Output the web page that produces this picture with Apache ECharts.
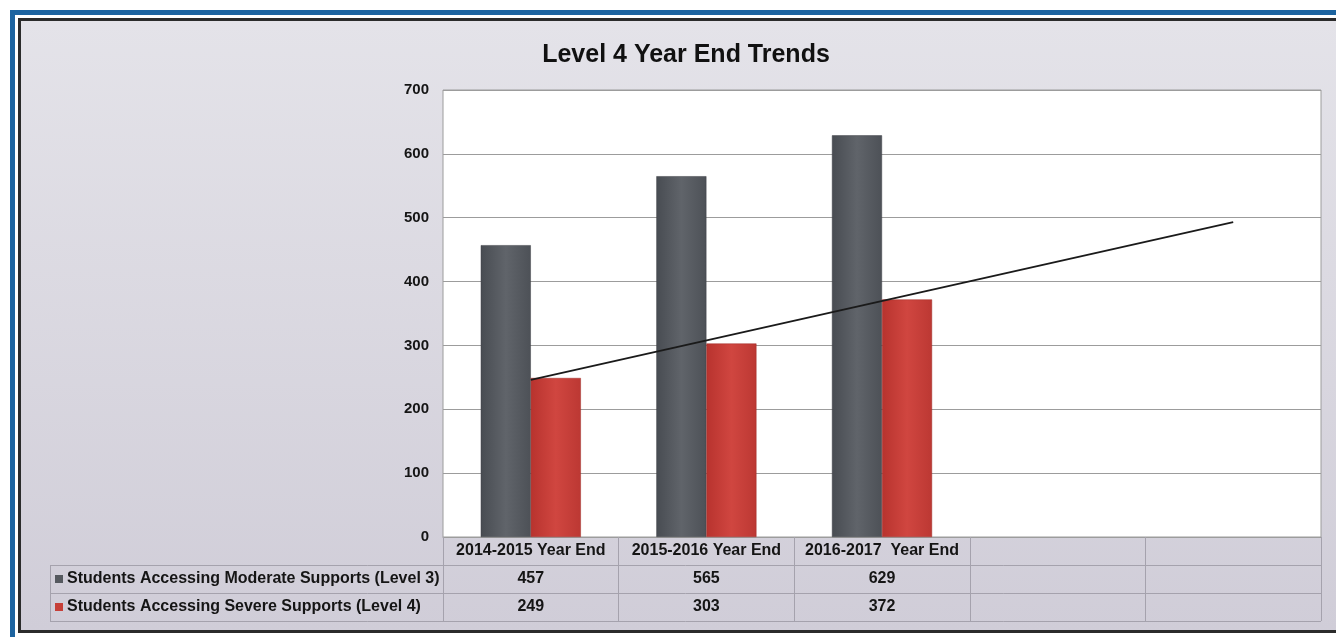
<!DOCTYPE html>
<html><head><meta charset="utf-8">
<script src="https://cdn.jsdelivr.net/npm/echarts@6/dist/echarts.min.js"></script>
<style>html,body{margin:0;padding:0;background:#fff}#c{width:1336px;height:637px}</style>
</head><body><div id="c"></div>
<script>
const chartTitle = 'Level 4 Year End Trends';
const categories = ['2014-2015 Year End', '2015-2016 Year End', '2016-2017  Year End', '', ''];
const seriesNames = ['Students Accessing Moderate Supports (Level 3)', 'Students Accessing Severe Supports (Level 4)'];
const moderate = [457, 565, 629];
const severe = [249, 303, 372];
const trendline = [246, '-', '-', '-', 493];
const yMin = 0, yMax = 700, yStep = 100;

const FONT = '"Liberation Sans", Arial, sans-serif';
const DARK = '#55595f', RED = '#c63f38';
const LINE = '#a5a2ad';

const chart = echarts.init(document.getElementById('c'), null, {renderer: 'canvas'});

const darkGrad = new echarts.graphic.LinearGradient(0, 0, 1, 0, [
  {offset: 0, color: '#484c52'}, {offset: 0.5, color: '#60646a'}, {offset: 1, color: '#4d5157'}]);
const redGrad = new echarts.graphic.LinearGradient(0, 0, 1, 0, [
  {offset: 0, color: '#b8332e'}, {offset: 0.5, color: '#d04640'}, {offset: 1, color: '#bc3833'}]);

const legendColors = [DARK, RED];
const rowY = [579, 607];

const graphics = [
  {type: 'rect', z: -20, shape: {x: 21, y: 21, width: 1315, height: 609},
   style: {fill: new echarts.graphic.LinearGradient(0, 0, 0, 1, [{offset: 0, color: '#e4e3e9'}, {offset: 1, color: '#d0cdd8'}])}},
  {type: 'rect', z: -10, shape: {x: 10, y: 10, width: 1326, height: 5}, style: {fill: '#1d64a0'}},
  {type: 'rect', z: -10, shape: {x: 10, y: 10, width: 5, height: 627}, style: {fill: '#1d64a0'}},
  {type: 'rect', z: -10, shape: {x: 18, y: 18, width: 1318, height: 3}, style: {fill: '#2b2b2b'}},
  {type: 'rect', z: -10, shape: {x: 18, y: 18, width: 3, height: 615}, style: {fill: '#2b2b2b'}},
  {type: 'rect', z: -10, shape: {x: 18, y: 630, width: 1318, height: 3}, style: {fill: '#2b2b2b'}},
  {type: 'line', z: 5, shape: {x1: 50, y1: 565.5, x2: 1321, y2: 565.5}, style: {stroke: LINE, lineWidth: 1}},
  {type: 'line', z: 5, shape: {x1: 50, y1: 593.5, x2: 1321, y2: 593.5}, style: {stroke: LINE, lineWidth: 1}},
  {type: 'line', z: 5, shape: {x1: 50, y1: 621.5, x2: 1321, y2: 621.5}, style: {stroke: LINE, lineWidth: 1}},
  {type: 'line', z: 5, shape: {x1: 50.5, y1: 565, x2: 50.5, y2: 622}, style: {stroke: LINE, lineWidth: 1}}
];
seriesNames.forEach((name, i) => {
  graphics.push({type: 'rect', z: 6, shape: {x: 55, y: rowY[i] - 4, width: 8, height: 8}, style: {fill: legendColors[i]}});
  graphics.push({type: 'text', z: 6, x: 67, y: rowY[i],
    style: {text: name, font: 'bold 16px ' + FONT, fill: '#151515', textVerticalAlign: 'middle', textAlign: 'left'}});
});

const option = {
  backgroundColor: '#ffffff',
  animation: false,
  title: {
    text: chartTitle, left: 681, top: 38, textAlign: 'center',
    textStyle: {fontFamily: FONT, fontWeight: 'bold', fontSize: 25, color: '#111'}
  },
  grid: {left: 443, right: 15, top: 90, bottom: 100, show: true, backgroundColor: '#ffffff', borderColor: '#9c9c9c', borderWidth: 1},
  xAxis: {
    type: 'category', data: categories,
    axisLine: {show: true, lineStyle: {color: '#9c9c9c'}},
    axisTick: {show: true, alignWithLabel: false, length: 84, lineStyle: {color: LINE}},
    axisLabel: {
      interval: 0, margin: 0,
      formatter: (val, idx) => {
        const a = moderate[idx] !== undefined ? moderate[idx] : '';
        const b = severe[idx] !== undefined ? severe[idx] : '';
        return '{h|' + val + '}\n{v|' + a + '}\n{v|' + b + '}';
      },
      rich: {
        h: {fontFamily: FONT, fontWeight: 'bold', fontSize: 16, color: '#151515', lineHeight: 28},
        v: {fontFamily: FONT, fontWeight: 'bold', fontSize: 16, color: '#151515', lineHeight: 28}
      }
    }
  },
  yAxis: {
    type: 'value', min: yMin, max: yMax, interval: yStep,
    axisLine: {show: false}, axisTick: {show: false},
    axisLabel: {margin: 14, fontFamily: FONT, fontWeight: 'bold', fontSize: 15, color: '#151515'},
    splitLine: {lineStyle: {color: '#9c9c9c', width: 1}}
  },
  series: [
    {name: seriesNames[0], type: 'bar', data: moderate, barGap: '0%', barCategoryGap: '43%',
     itemStyle: {color: darkGrad, borderColor: '#3c3f44', borderWidth: 0.5}},
    {name: seriesNames[1], type: 'bar', data: severe, barGap: '0%', barCategoryGap: '43%',
     itemStyle: {color: redGrad, borderColor: '#9e2a26', borderWidth: 0.5}},
    {name: 'Trend', type: 'line', data: trendline, connectNulls: true, symbol: 'none', z: 10,
     lineStyle: {color: '#1a1a1a', width: 1.8}}
  ],
  graphic: graphics
};
chart.setOption(option);
</script>
</body></html>
